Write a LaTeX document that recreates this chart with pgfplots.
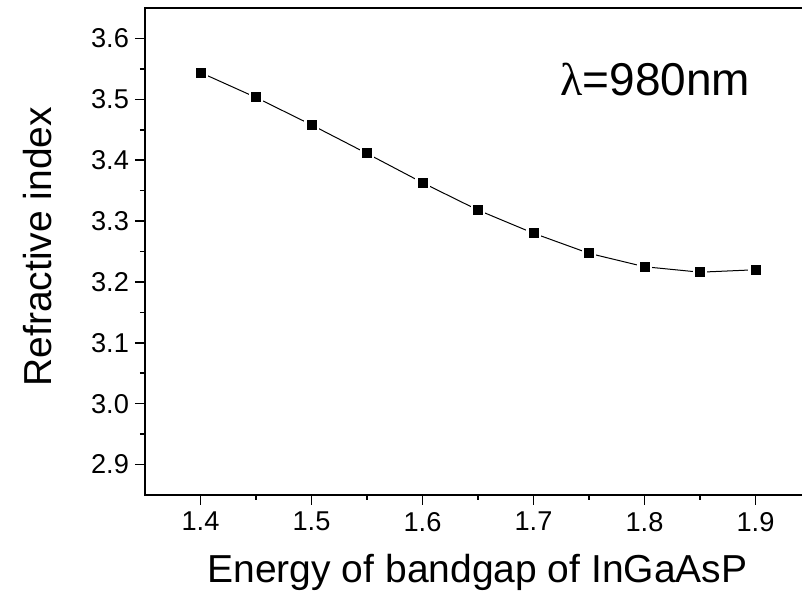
\documentclass[border=0pt]{standalone}
\usepackage{fontspec}
\setmainfont{Liberation Sans}
\newfontfamily\lamfont{Liberation Serif}
\usepackage{pgfplots}
\pgfplotsset{compat=1.18}
\begin{document}
\begin{tikzpicture}
\useasboundingbox (-72.5pt,-48.5pt) rectangle (328.5pt,247.5pt);
\clip (-72.5pt,-48.5pt) rectangle (328.5pt,247.5pt);
\begin{axis}[
  scale only axis,
  width=333pt, height=243.5pt,
  xmin=1.35, xmax=1.95, ymin=2.85, ymax=3.65,
  xtick={1.4,1.5,1.6,1.7,1.8,1.9},
  ytick={2.9,3.0,3.1,3.2,3.3,3.4,3.5,3.6},
  minor tick num=1,
  tick align=outside,
  xtick pos=bottom, ytick pos=left,
  major tick length=5pt, minor tick length=2.5pt,
  axis line style={line width=1pt},
  every tick/.style={line width=0.8pt, black},
  every minor tick/.style={line width=0.8pt, black},
  /pgf/number format/assume math mode=true,
  /pgf/number format/.cd, fixed, fixed zerofill, precision=1,
  /pgfplots/.cd,
  tick label style={font=\fontsize{13.6}{16}\selectfont},
  yticklabel style={xshift=0.5pt},
  xlabel={Energy of bandgap of InGaAsP},
  ylabel={Refractive index},
  every axis x label/.style={at={(axis description cs:0.4993,-0.1807)}, anchor=base, font=\fontsize{19.5}{23}\selectfont},
  every axis y label/.style={at={(axis description cs:-0.140,0.510)}, anchor=base, rotate=90, font=\fontsize{19.5}{23}\selectfont},
]
\addplot[black, line width=0.5pt, mark=square*, mark size=3.1pt,
  mark options={fill=black, draw=white, line width=1.2pt}]
  coordinates {
  (1.40,3.544) (1.45,3.503) (1.50,3.458) (1.55,3.411) (1.60,3.363)
  (1.65,3.318) (1.70,3.280) (1.75,3.247) (1.80,3.225) (1.85,3.216)
  (1.90,3.220)
  };
\node[anchor=base west, inner sep=0pt, font=\fontsize{23}{27}\selectfont]
  at (axis cs:1.7239,3.507) {{\lamfont λ}=980nm};
\end{axis}
\end{tikzpicture}
\end{document}
